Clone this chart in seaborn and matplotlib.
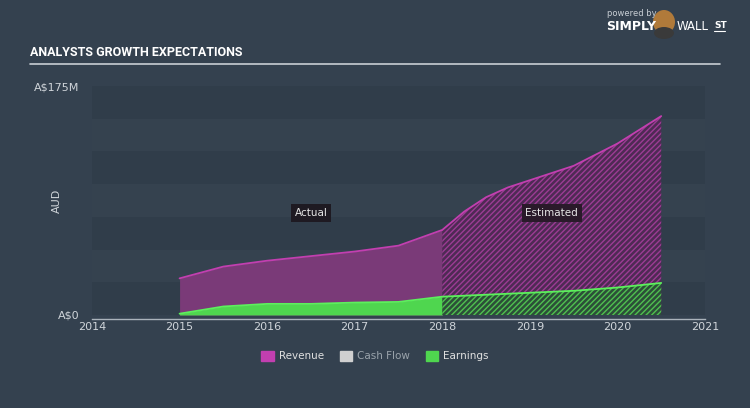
import matplotlib
matplotlib.use("Agg")
import matplotlib.pyplot as plt
import seaborn as sns
import numpy as np
import pandas as pd

# ---- data ----
rev_years = [2015, 2015.5, 2016, 2016.5, 2017, 2017.5, 2018, 2018.25, 2018.5, 2018.75, 2019, 2019.5, 2020, 2020.5]
revenue = [28, 37, 41.5, 45, 48.5, 53, 65, 79, 90, 97.5, 103, 114, 131, 152]
earn_years = [2015, 2015.5, 2016, 2016.5, 2017, 2017.5, 2018, 2018.5, 2019, 2019.5, 2020, 2020.5]
earnings = [1, 6.5, 8.5, 8.5, 9.5, 10, 14, 15.5, 17, 18.5, 21, 24.5]
split_year = 2018
x_ticks = [2014, 2015, 2016, 2017, 2018, 2019, 2020, 2021]
y_ticks = [0, 175]
y_labels = ["A$0", "A$175M"]
legend_names = ["Revenue", "Cash Flow", "Earnings"]

BG = "#34414f"
BAND_D = "#303d4a"
BAND_L = "#35424f"
REV_FILL = "#7a3a78"
REV_EST = "#4e2a54"
REV_LINE = "#c23fb0"
EARN_FILL = "#4fd64f"
EARN_EST = "#2c4f38"
EARN_LINE = "#5cf05c"
TXT = "#d0d5da"

sns.set_style("dark")
plt.rcParams["font.family"] = ["DejaVu Sans"]
plt.rcParams["hatch.linewidth"] = 1.0

fig = plt.figure(figsize=(7.5, 4.08), dpi=100)
fig.patch.set_facecolor(BG)
ax = fig.add_axes([92/750, (408-315)/408, (705-92)/750, (315-86)/408])
ax.set_facecolor(BG)
ax.spines["bottom"].set_position(("outward", 3))

# bands
for i in range(7):
    ax.axhspan(i*25, (i+1)*25, color=BAND_D if i % 2 == 0 else BAND_L, lw=0, zorder=0)

rdf = pd.DataFrame({"year": rev_years, "value": revenue})
edf = pd.DataFrame({"year": earn_years, "value": earnings})

ra = rdf[rdf.year <= split_year]
re_ = rdf[rdf.year >= split_year]
ea = edf[edf.year <= split_year]
ee = edf[edf.year >= split_year]

ax.fill_between(ra.year, 0, ra.value, color=REV_FILL, lw=0, zorder=2)
ax.fill_between(re_.year, 0, re_.value, facecolor=REV_EST, edgecolor="#9c3c94", hatch="//////", lw=0, zorder=2)
ax.fill_between(ea.year, 0, ea.value, color=EARN_FILL, lw=0, zorder=3)
ax.fill_between(ee.year, 0, ee.value, facecolor=EARN_EST, edgecolor="#50c050", hatch="//////", lw=0, zorder=3)

sns.lineplot(data=rdf, x="year", y="value", ax=ax, color=REV_LINE, lw=1.3, zorder=4)
sns.lineplot(data=edf, x="year", y="value", ax=ax, color=EARN_LINE, lw=1.3, zorder=5)

ax.set_xlim(2014, 2021)
ax.set_ylim(0, 175)
ax.set_xticks(x_ticks)
ax.set_xticklabels([str(t) for t in x_ticks], color=TXT, fontsize=8)
ax.set_yticks(y_ticks)
ax.set_yticklabels(y_labels, color=TXT, fontsize=8)
ax.tick_params(axis="y", length=0, pad=9)
ax.tick_params(axis="x", direction="in", length=5, color="#aab3bb", pad=2)
ax.set_xlabel("")
ax.set_ylabel("AUD", color=TXT, fontsize=8)
ax.yaxis.set_label_coords(-(92-62)/613, 0.5)
ax.grid(False)
for s in ["top", "right", "left"]:
    ax.spines[s].set_visible(False)
ax.spines["bottom"].set_color("#aab3bb")
ax.spines["bottom"].set_linewidth(1)

# tooltip labels
ax.text(2016.5, 78, "Actual", color="#e6e6e6", fontsize=7.5, ha="center", va="center",
        bbox=dict(boxstyle="square,pad=0.35", fc="#1e1a22", ec="none"), zorder=6)
ax.text(2019.25, 78, "Estimated", color="#e6e6e6", fontsize=7.5, ha="center", va="center",
        bbox=dict(boxstyle="square,pad=0.35", fc="#2a1a2a", ec="none"), zorder=6)

# title and rule
fig.text(30/750, 1-53/408, "ANALYSTS GROWTH EXPECTATIONS", color="white", fontsize=9,
         fontweight="bold", family=["Roboto", "DejaVu Sans"], va="center", ha="left")
fig.add_artist(plt.Line2D([30/750, 720/750], [1-64/408, 1-64/408], color="#c8ced4", lw=1.2))

# branding
fig.text(607/750, 1-14/408, "powered by", color="#c8ced4", fontsize=6, ha="left", va="center")
fig.text(606/750, 1-26/408, "SIMPLY", color="white", fontsize=9, fontweight="bold", ha="left", va="center")
fig.text(677/750, 1-26/408, "WALL", color="white", fontsize=8.5, ha="left", va="center")
fig.text(714/750, 1-25/408, "ST", color="white", fontsize=6.5, fontweight="bold", ha="left", va="center")
fig.add_artist(plt.Line2D([714/750, 725/750], [1-31/408, 1-31/408], color="white", lw=0.8))
fig.patches.append(matplotlib.patches.Ellipse((664/750, 1-22/408), 22/750, 24/408, transform=fig.transFigure,
                                               fc="#b07a3a", ec="none"))
fig.patches.append(matplotlib.patches.Ellipse((664/750, 1-33/408), 20/750, 12/408, transform=fig.transFigure,
                                               fc="#3a3a3a", ec="none"))

# legend
handles = [matplotlib.patches.Patch(color=c) for c in [REV_LINE, "#d0d0d0", EARN_FILL]]
leg = fig.legend(handles, legend_names, loc="center", bbox_to_anchor=(0.5, 1-356/408), ncol=3,
                 frameon=False, fontsize=7.5, handlelength=1.2, handleheight=1.2,
                 columnspacing=1.5, handletextpad=0.5)
for t, c in zip(leg.get_texts(), ["#e0e0e0", "#9aa3ab", "#e0e0e0"]):
    t.set_color(c)

fig.savefig("out.png", dpi=100, facecolor=BG)
